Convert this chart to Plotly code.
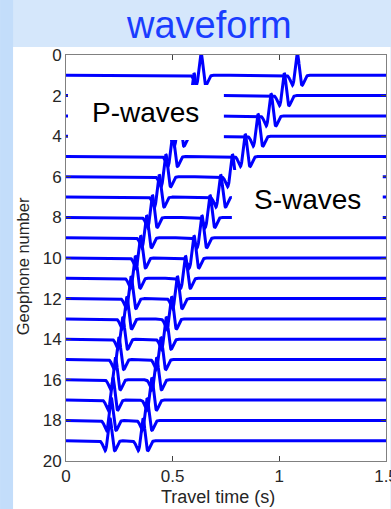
import numpy as np
import plotly.graph_objects as go

# ---- data ----
geophones = list(range(1, 20))
p_arrivals = [0.633, 0.600, 0.565, 0.530, 0.500, 0.468, 0.437, 0.405, 0.378,
              0.350, 0.325, 0.305, 0.285, 0.266, 0.248, 0.232, 0.220, 0.212, 0.206]
s_arrivals = [1.084, 1.023, 0.961, 0.900, 0.840, 0.780, 0.725, 0.675, 0.637,
              0.600, 0.560, 0.522, 0.495, 0.470, 0.445, 0.425, 0.402, 0.380, 0.361]
x_ticks = [0, 0.5, 1, 1.5]
x_ticktext = ["0", "0.5", "1", "1.5"]
y_ticks = list(range(0, 21, 2))

W, H = 391, 509
L, R, T, B = 66, 4.5, 55, 48.3
pw, ph = W - L - R, H - T - B

def px(xp):
    return (xp - L) / pw

def py(yp):
    return (H - B - yp) / ph

t = np.linspace(0, 1.5, 1501)
f0 = 17.0
amp = 1.1

def ricker(tt, t0):
    a = (np.pi * f0 * (tt - t0)) ** 2
    return (1 - 2 * a) * np.exp(-a)

fig = go.Figure()
for g, tp, ts in zip(geophones, p_arrivals, s_arrivals):
    y = g - amp * (ricker(t, tp) + ricker(t, ts))
    fig.add_trace(go.Scatter(x=t, y=y, mode="lines",
                             line=dict(color="#0000ff", width=3),
                             showlegend=False, hoverinfo="skip"))

font_fam = "Liberation Sans, Arial, sans-serif"

shapes = [
    # left darker stripe
    dict(type="rect", xref="paper", yref="paper", x0=px(0), x1=px(13), y0=py(H), y1=py(0),
         fillcolor="#c3ddfa", line=dict(width=0), layer="below"),
    # white panel
    dict(type="rect", xref="paper", yref="paper", x0=px(13), x1=px(W), y0=py(H), y1=py(47),
         fillcolor="white", line=dict(width=0), layer="below"),
    # P-waves label box
    dict(type="rect", xref="x", yref="y", x0=(68 - L) / 213.5, x1=(224 - L) / 213.5,
         y0=(85 - T) / 20.28, y1=(140 - T) / 20.28,
         fillcolor="white", line=dict(width=0), layer="above"),
    # S-waves label box
    dict(type="rect", xref="x", yref="y", x0=(232 - L) / 213.5, x1=(383 - L) / 213.5,
         y0=(170 - T) / 20.28, y1=(226 - T) / 20.28,
         fillcolor="white", line=dict(width=0), layer="above"),
]

annotations = [
    dict(text="waveform", xref="paper", yref="paper", x=px(209), y=py(25),
         xanchor="center", yanchor="middle", showarrow=False,
         font=dict(family=font_fam, size=38, color="#1a3dff")),
    dict(text="P-waves", xref="x", yref="y", x=(146 - L) / 213.5, y=(112 - T) / 20.28,
         xanchor="center", yanchor="middle", showarrow=False,
         font=dict(family=font_fam, size=28, color="black")),
    dict(text="S-waves", xref="x", yref="y", x=(308 - L) / 213.5, y=(199 - T) / 20.28,
         xanchor="center", yanchor="middle", showarrow=False,
         font=dict(family=font_fam, size=28, color="black")),
    dict(text="Travel time (s)", xref="paper", yref="paper", x=px(218), y=py(497),
         xanchor="center", yanchor="middle", showarrow=False,
         font=dict(family=font_fam, size=18, color="#262626")),
    dict(text="Geophone number", xref="paper", yref="paper", x=px(23), y=py(266),
         xanchor="center", yanchor="middle", showarrow=False, textangle=-90,
         font=dict(family=font_fam, size=16.5, color="#262626")),
]

axis_common = dict(showline=True, linecolor="#808080", linewidth=1, mirror="ticks",
                    ticks="inside", ticklen=5, tickcolor="#404040", showgrid=False,
                    zeroline=False, ticklabeloverflow="allow", automargin=False,
                    tickfont=dict(family=font_fam, size=17, color="#262626"))

fig.update_layout(
    width=W, height=H,
    margin=dict(l=L, r=R, t=T, b=B, pad=0),
    paper_bgcolor="#d5e7fb",
    plot_bgcolor="white",
    shapes=shapes,
    annotations=annotations,
    xaxis=dict(range=[0, 1.5], tickvals=x_ticks, ticktext=x_ticktext, **axis_common),
    yaxis=dict(range=[20, 0], tickvals=y_ticks, **axis_common),
)

fig.write_html("out.html")
